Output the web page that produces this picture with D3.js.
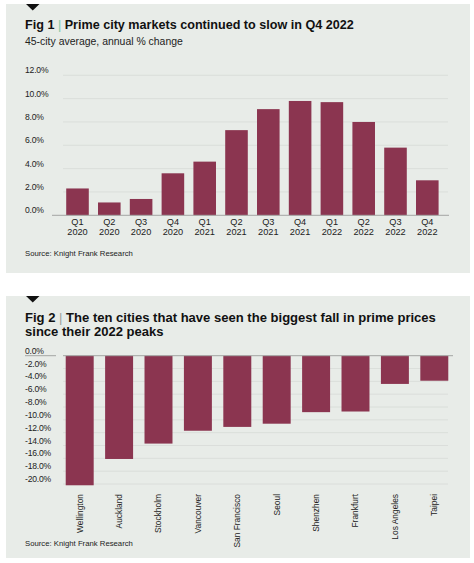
<!DOCTYPE html>
<html><head><meta charset="utf-8">
<script src="https://cdn.jsdelivr.net/npm/d3@7"></script>
<style>
html,body{margin:0;padding:0;background:#fff;}
svg text{font-family:"Liberation Sans",Arial,sans-serif;}
</style></head>
<body>
<svg id="c" width="474" height="563"></svg>
<script>
// ---- data ----
const quarters = ["Q1 2020","Q2 2020","Q3 2020","Q4 2020","Q1 2021","Q2 2021","Q3 2021","Q4 2021","Q1 2022","Q2 2022","Q3 2022","Q4 2022"];
const annualChange = [2.3,1.1,1.4,3.6,4.6,7.3,9.1,9.8,9.7,8.0,5.8,3.0];
const ticks1 = [0,2,4,6,8,10,12];

const cities = ["Wellington","Auckland","Stockholm","Vancouver","San Francisco","Seoul","Shenzhen","Frankfurt","Los Angeles","Taipei"];
const fallFromPeak = [-20.2,-16.1,-13.7,-11.7,-11.1,-10.6,-8.8,-8.7,-4.4,-3.9];
const ticks2 = [0,-2,-4,-6,-8,-10,-12,-14,-16,-18,-20];

const title1 = "Prime city markets continued to slow in Q4 2022";
const subtitle1 = "45-city average, annual % change";
const title2a = "The ten cities that have seen the biggest fall in prime prices";
const title2b = "since their 2022 peaks";
const source = "Source: Knight Frank Research";

// ---- style ----
const BAR = "#8b3550", PANEL = "#e8ece8", GRID = "#d7dbd7", AXIS = "#a3a6a3", TXT = "#222";
const svg = d3.select("#c");

function fit(sel, w){
  const n = sel.node(); const fs = parseFloat(sel.attr("font-size"));
  const cur = n.getComputedTextLength();
  sel.attr("font-size", (fs*w/cur).toFixed(2));
}
function tri(y){
  svg.append("path").attr("d",`M26,${y} L39.5,${y} L32.75,${y+6.5} Z`).attr("fill","#111");
}
function titleLine(y, fig, sepColor, text, w){
  const t = svg.append("text").attr("x",25).attr("y",y).attr("font-size",12).attr("font-weight","bold").attr("fill","#111");
  if(fig){
    t.append("tspan").text(fig);
    t.append("tspan").attr("font-weight","normal").attr("fill",sepColor).text(" | ");
  }
  t.append("tspan").text(text);
  fit(t,w);
  return t;
}

// ---- panels ----
svg.append("rect").attr("x",6).attr("y",4).attr("width",464).attr("height",269).attr("fill",PANEL);
svg.append("rect").attr("x",6).attr("y",296).attr("width",464).attr("height",262).attr("fill",PANEL);
tri(4); tri(296);

// ---- Fig 1 ----
titleLine(29, "Fig 1", "#7fc8a4", title1, 329);
const st = svg.append("text").attr("x",25).attr("y",44.5).attr("font-size",10).attr("fill",TXT).text(subtitle1);
fit(st,158);

const y1 = d3.scaleLinear().domain([0,12]).range([215.3,75.3]);
const x1 = d3.scaleBand().domain(quarters).range([61.6,443.2]).paddingInner(0.29).paddingOuter(0.145);
const g1 = svg.append("g");
g1.selectAll("line.grid").data(ticks1.filter(d=>d!==0)).join("line")
  .attr("x1",63).attr("x2",448).attr("y1",d=>y1(d)).attr("y2",d=>y1(d))
  .attr("stroke",GRID).attr("stroke-width",0.8);
g1.selectAll("text.tick").data(ticks1).join("text")
  .attr("x",25).attr("y",d=>y1(d)-2).attr("font-size",8.6).attr("fill",TXT).attr("letter-spacing",-0.2)
  .text(d=>d.toFixed(1)+"%");
g1.selectAll("rect").data(quarters).join("rect")
  .attr("x",d=>x1(d)).attr("width",x1.bandwidth())
  .attr("y",(d,i)=>y1(annualChange[i])).attr("height",(d,i)=>y1(0)-y1(annualChange[i]))
  .attr("fill",BAR);
g1.append("line").attr("x1",52).attr("x2",449).attr("y1",y1(0)).attr("y2",y1(0)).attr("stroke",AXIS).attr("stroke-width",1);
const xl = g1.selectAll("text.xl").data(quarters).join("text")
  .attr("text-anchor","middle").attr("font-size",9.2).attr("fill",TXT);
xl.append("tspan").attr("x",d=>x1(d)+x1.bandwidth()/2).attr("y",225.3).text(d=>d.split(" ")[0]);
xl.append("tspan").attr("x",d=>x1(d)+x1.bandwidth()/2).attr("y",235.3).text(d=>d.split(" ")[1]);
const s1 = svg.append("text").attr("x",25).attr("y",256).attr("font-size",8).attr("fill",TXT).text(source);
fit(s1,108);

// ---- Fig 2 ----
titleLine(322, "Fig 2", "#9aa09a", title2a, 411);
const t2b = svg.append("text").attr("x",25).attr("y",335.5).attr("font-weight","bold").attr("fill","#111").text(title2b);
t2b.attr("font-size", d3.select(svg.selectAll("text").nodes().filter(n=>n.textContent.startsWith("Fig 2"))[0]).attr("font-size"));

const y2 = d3.scaleLinear().domain([-20,0]).range([484,355.7]);
const x2 = d3.scaleBand().domain(cities).range([60,454]).paddingInner(0.29).paddingOuter(0.145);
const g2 = svg.append("g");
g2.selectAll("line.grid").data(ticks2.filter(d=>d!==0)).join("line")
  .attr("x1",63).attr("x2",448).attr("y1",d=>y2(d)).attr("y2",d=>y2(d))
  .attr("stroke",GRID).attr("stroke-width",0.8);
g2.selectAll("text.tick").data(ticks2).join("text")
  .attr("x",25).attr("y",d=>y2(d)-2).attr("font-size",8.6).attr("fill",TXT).attr("letter-spacing",-0.2)
  .text(d=>d.toFixed(1)+"%");
g2.selectAll("rect").data(cities).join("rect")
  .attr("x",d=>x2(d)).attr("width",x2.bandwidth())
  .attr("y",y2(0)).attr("height",(d,i)=>y2(fallFromPeak[i])-y2(0))
  .attr("fill",BAR);
g2.append("line").attr("x1",25).attr("x2",56).attr("y1",y2(0)).attr("y2",y2(0)).attr("stroke",AXIS).attr("stroke-width",1);
g2.append("line").attr("x1",63).attr("x2",453).attr("y1",y2(0)).attr("y2",y2(0)).attr("stroke",AXIS).attr("stroke-width",1);
g2.selectAll("text.city").data(cities).join("text")
  .attr("transform",d=>`translate(${x2(d)+x2.bandwidth()/2},494) rotate(-90)`)
  .attr("text-anchor","end").attr("dy","0.35em").attr("font-size",8.4).attr("fill",TXT)
  .text(d=>d);
const s2 = svg.append("text").attr("x",25).attr("y",545.5).attr("font-size",8).attr("fill",TXT).text(source);
fit(s2,108);
</script>
</body></html>
